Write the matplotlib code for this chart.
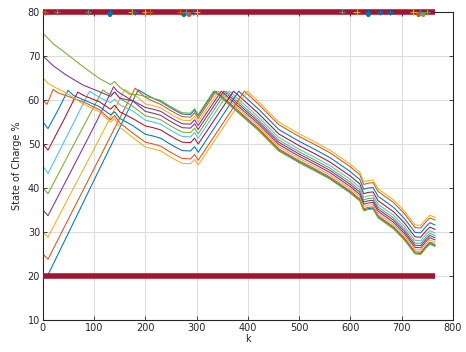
import matplotlib
matplotlib.use("Agg")
import matplotlib.pyplot as plt

# MATLAB default line colours
C_BLUE = "#0072BD"
C_ORANGE = "#D95319"
C_YELLOW = "#EDB120"
C_PURPLE = "#7E2F8E"
C_GREEN = "#77AC30"
C_LBLUE = "#4DBEEE"
C_DRED = "#A2142F"

# shared sample positions for the middle and tail of every trajectory
k_mid = [200, 215, 230, 245, 260, 272, 288, 296, 303]
k_tail = [420, 460, 500, 530, 560, 590, 600, 612, 618, 626, 635, 644, 654,
          684, 705, 726, 737, 748, 755, 765]

# one trajectory per initial state of charge (20 .. 75 %)
k_20 = [0, 8, 50, 100, 144, 186, 195] + k_mid + [335] + k_tail
soc_20 = [20, 19.8, 29.8, 41.8, 52.3, 62.3, 61.7,
          61.3, 60.4, 59.6, 58.5, 57.5, 56.8, 56.7, 57.7, 56.4, 62.0,
          53.3, 48.6, 45.9, 44.1, 42.2, 39.8, 39.0, 37.8, 37.3, 35.0, 35.3,
          35.4, 33.4, 30.9, 28.4, 25.2, 25.1, 26.6, 27.4, 26.9]

k_25 = [0, 10, 50, 100, 140, 180, 190] + k_mid + [338] + k_tail
soc_25 = [25, 23.8, 33.0, 44.4, 53.6, 62.7, 61.6,
          60.6, 59.7, 59.0, 57.9, 56.9, 56.2, 56.1, 57.1, 55.8, 62.0,
          53.6, 48.9, 46.2, 44.4, 42.5, 40.1, 39.3, 38.1, 37.6, 35.3, 35.6,
          35.7, 33.7, 31.2, 28.7, 25.5, 25.4, 26.9, 27.7, 27.2]

k_30 = [0, 10, 50, 100, 160, 170, 185] + k_mid + [343] + k_tail
soc_30 = [30, 28.8, 37.8, 48.9, 62.4, 61.6, 60.6,
          59.1, 58.7, 58.2, 57.1, 56.1, 55.4, 55.3, 56.3, 55.0, 62.0,
          54.1, 49.4, 46.7, 44.9, 43.0, 40.6, 39.8, 38.6, 38.1, 35.8, 36.1,
          36.2, 34.2, 31.7, 29.2, 26.0, 25.9, 27.4, 28.2, 27.7]

k_35 = [0, 10, 50, 100, 138, 145, 150, 175] + k_mid + [353] + k_tail
soc_35 = [35, 33.7, 42.7, 54.0, 63.0, 62.0, 61.6, 59.8,
          57.4, 57.0, 56.5, 55.4, 54.4, 53.7, 53.6, 54.6, 53.3, 62.0,
          55.1, 50.4, 47.7, 45.9, 44.0, 41.6, 40.8, 39.6, 39.1, 36.8, 37.1,
          37.2, 35.2, 32.7, 30.2, 27.0, 26.9, 28.4, 29.2, 28.7]

k_40 = [0, 10, 60, 117, 125, 132, 140, 150, 175] + k_mid + [358] + k_tail
soc_40 = [40, 38.7, 49.8, 62.3, 61.6, 61.2, 61.8, 60.4, 58.6,
          56.4, 56.0, 55.5, 54.4, 53.4, 52.7, 52.6, 53.6, 52.3, 62.0,
          55.6, 50.9, 48.2, 46.4, 44.5, 42.1, 41.3, 40.1, 39.6, 37.3, 37.6,
          37.7, 35.7, 33.2, 30.7, 27.5, 27.4, 28.9, 29.7, 29.2]

k_45 = [0, 10, 50, 91, 100, 115, 132, 140, 150, 175] + k_mid + [364] + k_tail
soc_45 = [45, 43.3, 52.5, 62.0, 61.3, 60.3, 59.4, 60.2, 58.9, 57.5,
          55.4, 55.0, 54.5, 53.4, 52.4, 51.7, 51.6, 52.6, 51.3, 62.0,
          56.2, 51.5, 48.8, 47.0, 45.1, 42.7, 41.9, 40.7, 40.2, 37.9, 38.2,
          38.3, 36.3, 33.8, 31.3, 28.1, 28.0, 29.5, 30.3, 29.8]

k_50 = [0, 10, 40, 68, 80, 110, 132, 140, 150, 175] + k_mid + [372] + k_tail
soc_50 = [50, 48.6, 55.3, 61.8, 61.0, 59.6, 57.9, 58.8, 57.3, 55.8,
          54.1, 53.7, 53.2, 52.1, 51.1, 50.4, 50.3, 51.3, 50.0, 62.0,
          57.0, 52.3, 49.6, 47.8, 45.9, 43.5, 42.7, 41.5, 41.0, 38.7, 39.0,
          39.1, 37.1, 34.6, 32.1, 28.9, 28.8, 30.3, 31.1, 30.6]

k_55 = [0, 10, 30, 49, 60, 80, 110, 132, 140, 150, 175] + k_mid + [382] + k_tail
soc_55 = [55, 53.5, 57.8, 62.2, 61.0, 60.0, 58.5, 56.6, 57.3, 55.8, 54.2,
          52.2, 51.8, 51.3, 50.2, 49.2, 48.5, 48.4, 49.4, 48.1, 62.0,
          58.0, 53.3, 50.6, 48.8, 46.9, 44.5, 43.7, 42.5, 42.0, 39.7, 40.0,
          40.1, 38.1, 35.6, 33.1, 29.9, 29.8, 31.3, 32.1, 31.6]

k_60 = [0, 8, 20, 30, 45, 80, 110, 132, 140, 150, 175] + k_mid + [393] + k_tail
soc_60 = [60, 59.0, 62.4, 61.6, 61.0, 59.5, 57.8, 55.5, 56.5, 54.8, 52.5,
          50.4, 50.0, 49.5, 48.4, 47.4, 46.7, 46.6, 47.6, 46.3, 62.0,
          59.1, 54.4, 51.7, 49.9, 48.0, 45.6, 44.8, 43.6, 43.1, 40.8, 41.1,
          41.2, 39.2, 36.7, 34.2, 31.0, 30.9, 32.4, 33.2, 32.7]

k_65 = [0, 10, 25, 45, 80, 110, 132, 140, 150, 175] + k_mid + [399] + k_tail
soc_65 = [65, 63.8, 62.8, 61.6, 59.0, 57.3, 55.0, 55.8, 53.8, 51.5,
          49.3, 48.9, 48.4, 47.3, 46.3, 45.6, 45.5, 46.5, 45.2, 62.0,
          59.7, 55.0, 52.3, 50.5, 48.6, 46.2, 45.4, 44.2, 43.7, 41.4, 41.7,
          41.8, 39.8, 37.3, 34.8, 31.6, 31.5, 33.0, 33.8, 33.3]

k_70 = [0, 20, 45, 78, 110, 132, 140, 150, 176] + k_mid + [348] + k_tail
soc_70 = [70, 67.8, 65.7, 63.4, 61.9, 60.8, 61.8, 60.4, 59.8,
          58.3, 57.9, 57.4, 56.3, 55.3, 54.6, 54.5, 55.5, 54.2, 62.0,
          54.6, 49.9, 47.2, 45.4, 43.5, 41.1, 40.3, 39.1, 38.6, 36.3, 36.6,
          36.7, 34.7, 32.2, 29.7, 26.5, 26.4, 27.9, 28.7, 28.2]

k_75 = [0, 20, 45, 78, 110, 132, 140, 150, 169, 185] + k_mid + [333] + k_tail
soc_75 = [75.2, 72.8, 70.6, 67.6, 64.9, 63.5, 64.2, 62.9, 61.3, 61.2,
          60.8, 60.4, 59.9, 58.8, 57.8, 57.1, 57.0, 58.0, 56.7, 62.0,
          53.1, 48.4, 45.7, 43.9, 42.0, 39.6, 38.8, 37.6, 37.1, 34.8, 35.1,
          35.2, 33.2, 30.7, 28.2, 25.0, 24.9, 26.4, 27.2, 26.7]

curves = [(k_20, soc_20), (k_25, soc_25), (k_30, soc_30), (k_35, soc_35),
          (k_40, soc_40), (k_45, soc_45), (k_50, soc_50), (k_55, soc_55),
          (k_60, soc_60), (k_65, soc_65), (k_70, soc_70), (k_75, soc_75)]
colors = [C_BLUE, C_ORANGE, C_YELLOW, C_PURPLE, C_GREEN, C_LBLUE, C_DRED] * 2

# SoC limits and the markers sitting on the upper limit
k_limit = [0, 765]
soc_max = [80, 80]
soc_min = [20, 20]
mark_k = [4, 27, 88, 131, 173, 180, 199, 209, 267, 280, 293, 300,
          583, 612, 635, 658, 677, 723, 736, 749]
mark_c = [C_ORANGE, "#7f7f7f", "#7f7f7f", C_BLUE, C_YELLOW, C_BLUE, C_YELLOW,
          C_ORANGE, C_ORANGE, "#7f7f7f", C_BLUE, C_YELLOW,
          "#7f7f7f", C_YELLOW, C_BLUE, C_BLUE, C_BLUE, C_YELLOW, "#7f7f7f",
          C_GREEN]
circ_k = [131, 275, 285, 635, 733, 742]
circ_c = [C_BLUE, C_BLUE, C_ORANGE, C_BLUE, C_ORANGE, C_GREEN]

fig = plt.figure(figsize=(4.66, 3.52), dpi=100)
ax = fig.add_axes([0.092, 0.091, 0.88, 0.875])

for (k, soc), c in zip(curves, colors):
    ax.plot(k, soc, color=c, lw=0.75)

ax.plot(k_limit, soc_max, color=C_DRED, lw=4.0, clip_on=False, zorder=4,
        solid_capstyle="butt")
ax.plot(k_limit, soc_min, color=C_DRED, lw=4.0, clip_on=False, zorder=4,
        solid_capstyle="butt")
ax.scatter(circ_k, [79.4] * len(circ_k), s=12, c=circ_c, marker="o",
           zorder=5, clip_on=False, linewidths=0)
ax.scatter(mark_k, [80] * len(mark_k), s=20, c=mark_c, marker="+",
           zorder=6, clip_on=False, linewidths=0.8)

ax.set_xlim(0, 800)
ax.set_ylim(10, 80)
ax.set_xticks(range(0, 801, 100))
ax.set_yticks(range(10, 81, 10))
ax.grid(True, color="#dcdcdc", lw=0.7)
ax.set_axisbelow(True)
ax.tick_params(direction="in", length=3, width=0.6, labelsize=7,
               colors="#262626", top=True, right=True, pad=2)
for s in ax.spines.values():
    s.set_color("#262626")
    s.set_linewidth(0.8)
ax.set_xlabel("k", fontsize=7, color="#262626", labelpad=1)
ax.set_ylabel("State of Charge %", fontsize=7, color="#262626", labelpad=4)

fig.savefig("out.png", dpi=100)
